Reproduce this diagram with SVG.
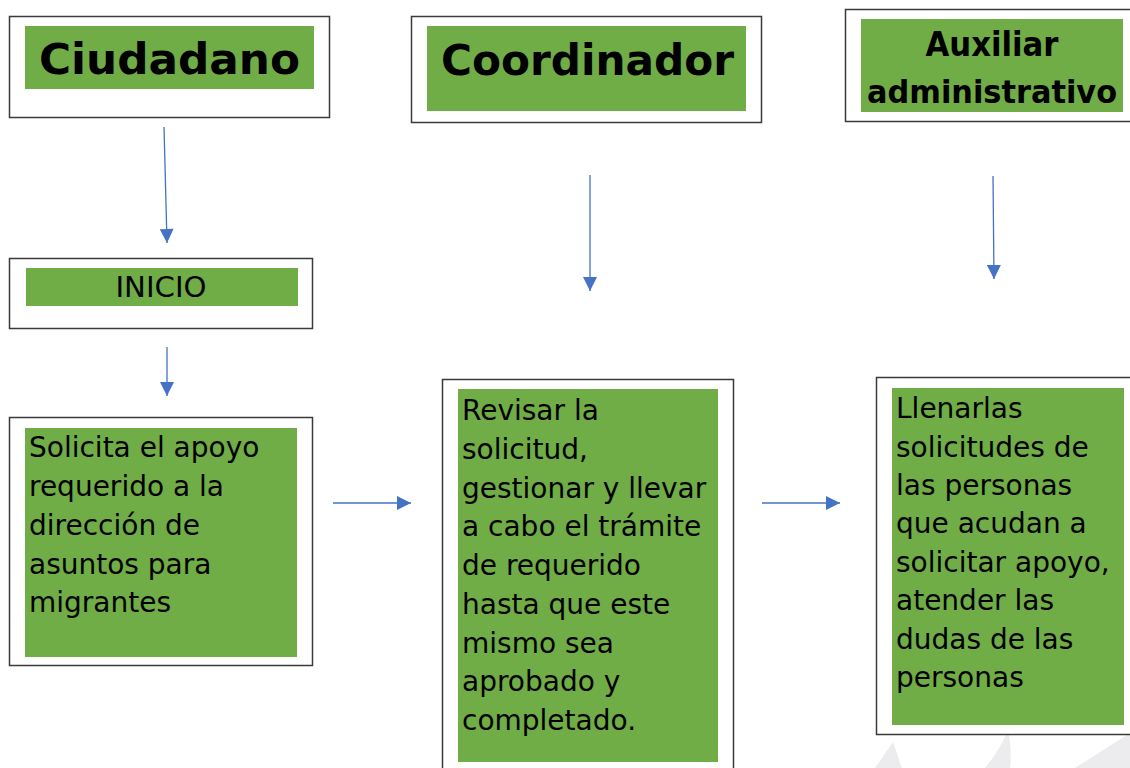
<svg xmlns="http://www.w3.org/2000/svg" width="1130" height="768" viewBox="0 0 1130 768">
<style>
.outer{fill:#fff;stroke:#3a3a3a;stroke-width:1.5}
.green{fill:#70AD47}
.h{font-family:"DejaVu Sans",sans-serif;font-weight:bold;fill:#000}
.t{font-family:"DejaVu Sans",sans-serif;font-size:28px;fill:#000}
.c{stroke:#4472C4;stroke-width:1.3;fill:none}
.wm{fill:#ececee}
</style>
<defs>
<marker id="ah" viewBox="0 0 10 10" refX="10" refY="5" markerWidth="15" markerHeight="14" markerUnits="userSpaceOnUse" orient="auto">
<path d="M0,0 L10,5 L0,10 Z" fill="#4472C4"/>
</marker>
</defs>
<rect width="1130" height="768" fill="#fff"/>
<g id="watermark">
<path class="wm" d="M875,768 L893,742 L902,768 Z"/>
<path class="wm" d="M985,768 Q1000,750 1008,730 Q1012,752 1010,768 Z"/>
<path class="wm" d="M1075,768 L1130,733 L1130,768 Z"/>
</g>
<g id="ciudadano">
<rect class="outer" x="9.5" y="16.5" width="320" height="101"/>
<rect class="green" x="25" y="26" width="289" height="63"/>
<text class="h" x="169.5" y="74" font-size="42" text-anchor="middle" textLength="261" lengthAdjust="spacingAndGlyphs">Ciudadano</text>
</g>
<g id="coordinador">
<rect class="outer" x="411.5" y="16.5" width="350" height="106"/>
<rect class="green" x="427" y="26" width="319" height="85"/>
<text class="h" x="587.5" y="75" font-size="42" text-anchor="middle" textLength="293" lengthAdjust="spacingAndGlyphs">Coordinador</text>
</g>
<g id="auxiliar">
<rect class="outer" x="845.5" y="9.5" width="290" height="112"/>
<rect class="green" x="861" y="19" width="262" height="93"/>
<text class="h" x="992" y="56" font-size="33" text-anchor="middle" textLength="133" lengthAdjust="spacingAndGlyphs">Auxiliar</text>
<text class="h" x="992" y="103" font-size="32" text-anchor="middle" textLength="250" lengthAdjust="spacingAndGlyphs">administrativo</text>
</g>
<g id="inicio">
<rect class="outer" x="9.5" y="258.5" width="303" height="70"/>
<rect class="green" x="26" y="268" width="272" height="38"/>
<text class="t" x="161" y="297" font-size="25" text-anchor="middle" textLength="91" lengthAdjust="spacingAndGlyphs">INICIO</text>
</g>
<g id="solicita">
<rect class="outer" x="9.5" y="417.5" width="303" height="248"/>
<rect class="green" x="25" y="428" width="272" height="229"/>
<text class="t" x="29" y="457">Solicita el apoyo</text>
<text class="t" x="29" y="496">requerido a la</text>
<text class="t" x="29" y="535">dirección de</text>
<text class="t" x="29" y="574">asuntos para</text>
<text class="t" x="29" y="612">migrantes</text>
</g>
<g id="revisar">
<rect class="outer" x="442.5" y="379.5" width="291" height="400"/>
<rect class="green" x="458" y="389" width="260" height="373"/>
<text class="t" x="462" y="420">Revisar la</text>
<text class="t" x="462" y="459">solicitud,</text>
<text class="t" x="462" y="498">gestionar y llevar</text>
<text class="t" x="462" y="536">a cabo el trámite</text>
<text class="t" x="462" y="575">de requerido</text>
<text class="t" x="462" y="614">hasta que este</text>
<text class="t" x="462" y="653">mismo sea</text>
<text class="t" x="462" y="691">aprobado y</text>
<text class="t" x="462" y="730">completado.</text>
</g>
<g id="llenarlas">
<rect class="outer" x="876.5" y="377.5" width="270" height="357"/>
<rect class="green" x="892" y="388" width="232" height="337"/>
<text class="t" x="896" y="418">Llenarlas</text>
<text class="t" x="896" y="457">solicitudes de</text>
<text class="t" x="896" y="495">las personas</text>
<text class="t" x="896" y="533">que acudan a</text>
<text class="t" x="896" y="572">solicitar apoyo,</text>
<text class="t" x="896" y="610">atender las</text>
<text class="t" x="896" y="649">dudas de las</text>
<text class="t" x="896" y="687">personas</text>
</g>
<g id="connectors">
<line class="c" x1="164" y1="127" x2="167" y2="243" marker-end="url(#ah)"/>
<line class="c" x1="167" y1="347" x2="167" y2="396" marker-end="url(#ah)"/>
<line class="c" x1="590" y1="175" x2="590" y2="291" marker-end="url(#ah)"/>
<line class="c" x1="993" y1="176" x2="994" y2="279" marker-end="url(#ah)"/>
<line class="c" x1="333" y1="503" x2="411" y2="503" marker-end="url(#ah)"/>
<line class="c" x1="762" y1="503" x2="840" y2="503" marker-end="url(#ah)"/>
</g>
</svg>
